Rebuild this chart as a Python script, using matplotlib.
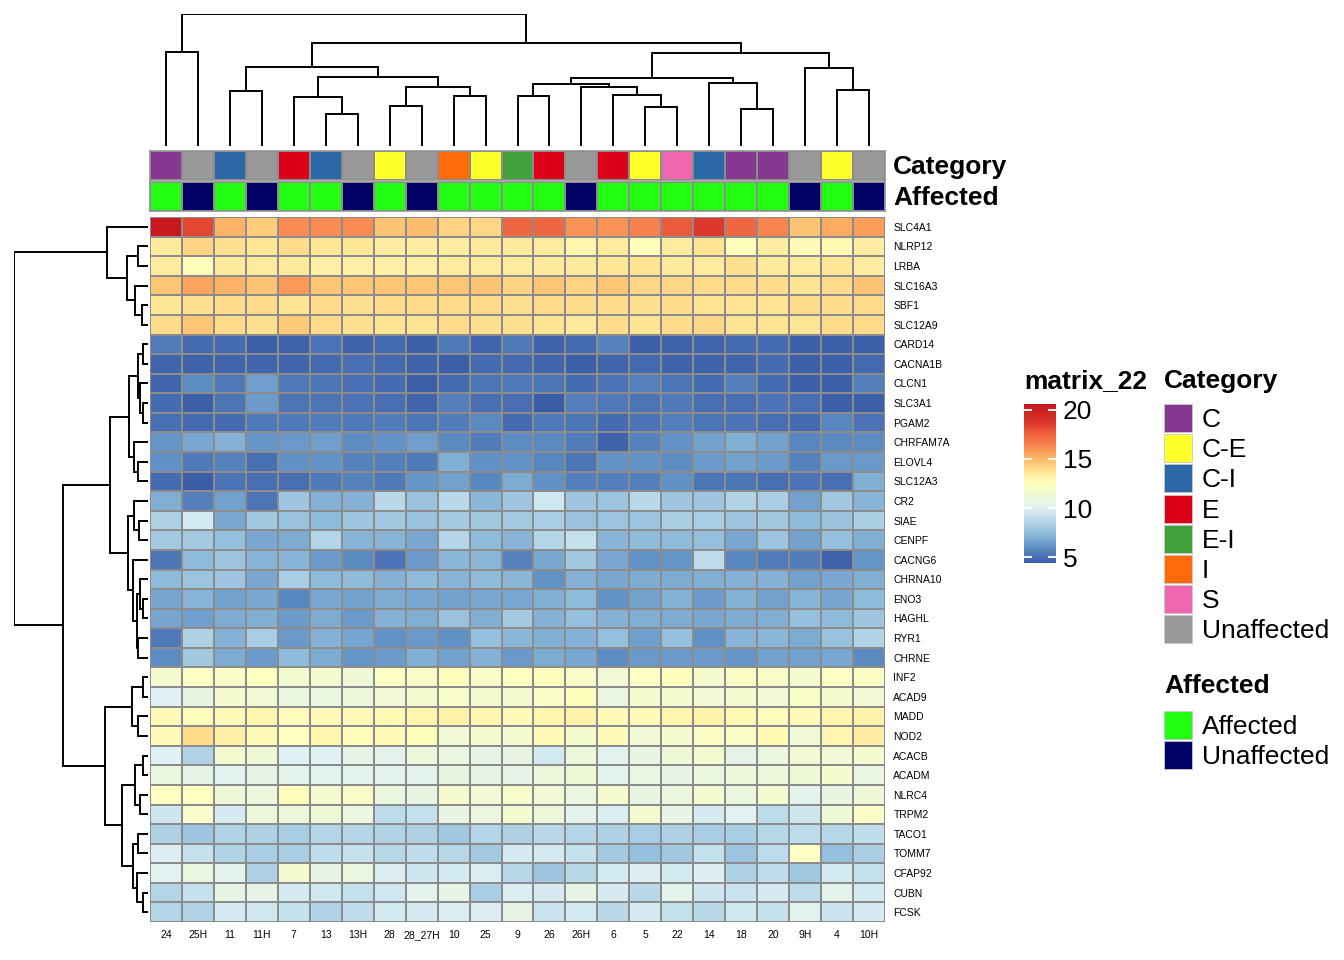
import numpy as np
import matplotlib
matplotlib.use("Agg")
import matplotlib.pyplot as plt
from matplotlib.colors import LinearSegmentedColormap, ListedColormap, Normalize
from matplotlib.patches import Rectangle

plt.rcParams['font.family'] = ['Liberation Sans', 'DejaVu Sans']

# samples (columns) in dendrogram order
samples = ["24", "25H", "11", "11H", "7", "13", "13H", "28", "28_27H", "10", "25",
           "9", "26", "26H", "6", "5", "22", "14", "18", "20", "9H", "4", "10H"]
category = ["C", "Unaffected", "C-I", "Unaffected", "E", "C-I", "Unaffected", "C-E",
            "Unaffected", "I", "C-E", "E-I", "E", "Unaffected", "E", "C-E", "S", "C-I",
            "C", "C", "Unaffected", "C-E", "Unaffected"]
affected = ["Affected", "Unaffected", "Affected", "Unaffected", "Affected", "Affected",
            "Unaffected", "Affected", "Unaffected", "Affected", "Affected", "Affected",
            "Affected", "Unaffected", "Affected", "Affected", "Affected", "Affected",
            "Affected", "Affected", "Unaffected", "Affected", "Unaffected"]

genes = ["SLC4A1", "NLRP12", "LRBA", "SLC16A3", "SBF1", "SLC12A9", "CARD14", "CACNA1B",
         "CLCN1", "SLC3A1", "PGAM2", "CHRFAM7A", "ELOVL4", "SLC12A3", "CR2", "SIAE",
         "CENPF", "CACNG6", "CHRNA10", "ENO3", "HAGHL", "RYR1", "CHRNE", "INF2", "ACAD9",
         "MADD", "NOD2", "ACACB", "ACADM", "NLRC4", "TRPM2", "TACO1", "TOMM7", "CFAP92",
         "CUBN", "FCSK"]

# expression matrix (genes x samples)
values = [
    [20.3, 18.2, 15.2, 14.4, 16.2, 16.2, 16.2, 14.7, 14.9, 14.2, 14.1, 17.4, 17.4, 16.0, 16.0, 16.5, 17.7, 18.6, 17.4, 16.4, 14.7, 15.4, 15.7],
    [13.5, 14.2, 13.8, 13.6, 13.9, 13.6, 13.6, 13.3, 13.3, 13.3, 13.5, 13.5, 13.4, 12.9, 13.4, 12.6, 13.4, 13.7, 12.6, 13.3, 12.7, 12.8, 13.3],
    [13.4, 12.6, 13.5, 13.4, 13.5, 13.2, 13.2, 13.2, 13.2, 13.4, 13.4, 13.4, 13.5, 13.5, 13.6, 13.7, 13.5, 13.4, 13.8, 13.5, 13.4, 13.6, 13.3],
    [14.6, 15.6, 15.2, 14.7, 15.8, 14.6, 14.6, 14.6, 14.6, 14.6, 14.7, 14.2, 14.6, 14.2, 14.6, 14.1, 14.1, 14.0, 14.0, 13.9, 13.7, 14.0, 14.7],
    [13.6, 13.8, 13.9, 14.0, 13.7, 13.9, 13.8, 14.0, 14.0, 14.0, 14.0, 13.8, 14.0, 13.9, 13.9, 13.8, 13.9, 13.7, 13.7, 13.7, 13.9, 13.9, 14.0],
    [13.9, 14.6, 14.0, 13.8, 14.5, 14.0, 13.8, 13.7, 13.7, 13.9, 13.8, 13.8, 13.7, 13.5, 13.9, 13.7, 13.9, 14.1, 13.7, 13.7, 13.6, 14.0, 14.0],
    [5.4, 4.9, 4.9, 4.5, 4.6, 5.1, 4.6, 4.8, 4.5, 5.3, 4.7, 5.3, 4.6, 4.8, 5.6, 4.5, 4.6, 4.7, 4.8, 4.9, 4.5, 4.5, 4.5],
    [4.7, 4.6, 4.7, 4.7, 4.7, 4.8, 5.0, 4.8, 4.6, 4.5, 4.9, 4.9, 4.7, 4.5, 4.7, 4.8, 4.6, 4.6, 4.7, 4.9, 4.5, 4.5, 4.8],
    [4.7, 5.9, 5.3, 6.5, 5.3, 5.2, 5.0, 4.9, 4.5, 4.9, 5.2, 5.3, 5.2, 4.9, 5.1, 5.6, 5.2, 4.9, 5.5, 4.9, 4.5, 4.5, 5.5],
    [4.9, 4.5, 5.2, 6.4, 5.2, 5.2, 5.1, 5.0, 4.7, 5.5, 5.0, 5.0, 4.4, 5.5, 5.3, 5.2, 5.3, 5.0, 5.0, 5.1, 5.0, 4.5, 4.5],
    [5.0, 4.8, 4.9, 5.3, 5.3, 5.4, 5.3, 5.4, 5.2, 5.4, 5.8, 4.9, 5.3, 5.2, 4.9, 5.1, 5.5, 5.2, 5.1, 5.0, 4.9, 5.7, 5.1],
    [6.2, 6.8, 7.1, 6.2, 6.3, 6.5, 5.9, 6.1, 6.5, 5.8, 5.4, 5.9, 5.8, 5.4, 4.6, 5.6, 6.1, 6.6, 7.0, 6.6, 5.7, 5.8, 5.9],
    [6.0, 5.3, 5.6, 5.0, 6.0, 6.1, 5.6, 5.5, 5.3, 7.0, 6.0, 6.1, 5.7, 5.2, 6.1, 6.1, 5.9, 6.4, 6.6, 6.4, 5.6, 6.3, 6.3],
    [4.9, 4.4, 5.1, 5.0, 5.0, 5.3, 5.6, 5.3, 6.2, 6.6, 5.7, 6.9, 6.0, 5.5, 5.5, 5.5, 6.0, 5.2, 5.2, 5.0, 5.1, 5.0, 7.0],
    [7.0, 5.5, 6.6, 5.2, 7.9, 7.1, 7.1, 8.8, 7.7, 8.8, 7.3, 7.9, 9.5, 7.9, 7.8, 8.8, 7.9, 7.9, 8.5, 8.2, 6.6, 8.0, 7.2],
    [8.4, 9.6, 6.8, 8.0, 7.7, 7.4, 7.9, 8.0, 7.7, 8.1, 8.0, 8.1, 8.2, 7.7, 7.8, 7.8, 8.3, 8.2, 7.9, 8.0, 7.4, 7.7, 8.3],
    [8.1, 8.1, 7.6, 6.8, 6.9, 8.6, 7.2, 7.2, 6.8, 8.6, 7.4, 7.2, 8.6, 9.2, 7.2, 7.5, 7.5, 7.6, 6.8, 7.8, 6.6, 7.6, 7.0],
    [5.2, 7.4, 7.8, 7.2, 7.2, 6.3, 5.8, 5.1, 6.3, 7.3, 7.3, 5.6, 6.8, 8.0, 6.8, 6.1, 6.2, 9.0, 5.7, 5.4, 5.4, 4.6, 6.2],
    [7.4, 7.8, 7.9, 6.8, 8.2, 7.5, 7.5, 7.1, 7.4, 7.2, 7.4, 7.3, 6.1, 7.1, 6.8, 6.9, 6.9, 7.0, 7.1, 7.1, 6.6, 6.8, 7.0],
    [6.7, 7.2, 6.6, 6.8, 5.7, 6.8, 6.6, 6.9, 6.8, 6.6, 6.8, 6.8, 7.0, 7.5, 6.1, 6.6, 7.1, 6.4, 7.1, 6.6, 7.2, 6.7, 7.4],
    [6.7, 6.5, 6.9, 7.0, 6.4, 6.9, 6.3, 7.1, 7.0, 7.7, 7.0, 8.1, 7.1, 7.6, 7.1, 7.0, 6.9, 6.8, 6.9, 7.0, 7.6, 7.4, 7.9],
    [5.3, 8.4, 7.1, 8.2, 6.3, 7.1, 6.7, 6.1, 6.3, 6.0, 7.6, 7.3, 7.0, 7.1, 7.6, 6.5, 7.6, 6.0, 7.2, 7.3, 6.9, 7.7, 8.5],
    [5.9, 8.0, 6.9, 6.4, 7.4, 6.9, 6.2, 6.4, 7.0, 6.6, 7.1, 6.3, 6.9, 6.8, 5.9, 6.3, 6.4, 6.4, 6.2, 6.6, 6.6, 6.8, 5.8],
    [11.7, 12.3, 12.0, 12.4, 11.5, 11.8, 11.2, 12.3, 12.0, 12.6, 12.0, 12.4, 12.6, 12.0, 11.3, 12.3, 12.6, 11.8, 12.2, 12.0, 11.7, 12.3, 12.2],
    [10.0, 10.7, 11.8, 11.4, 10.9, 10.9, 11.1, 11.3, 11.6, 11.9, 11.6, 11.6, 12.1, 12.6, 10.8, 11.6, 11.5, 11.3, 11.6, 11.4, 12.0, 11.8, 11.3],
    [12.7, 12.6, 12.7, 13.0, 12.6, 12.7, 12.7, 12.8, 13.0, 13.1, 12.9, 12.7, 13.0, 13.1, 12.7, 12.7, 13.0, 13.1, 12.8, 12.6, 12.7, 13.0, 13.1],
    [12.7, 13.9, 13.2, 12.7, 12.5, 13.0, 12.6, 12.7, 12.6, 11.4, 11.8, 11.8, 12.7, 11.8, 12.7, 11.4, 11.8, 12.2, 12.0, 12.8, 11.4, 12.9, 13.3],
    [10.0, 8.5, 11.6, 11.2, 10.0, 10.0, 10.5, 10.4, 11.0, 10.8, 10.6, 10.7, 9.6, 11.0, 10.2, 10.7, 11.2, 11.6, 10.5, 10.9, 11.4, 11.4, 11.8],
    [10.9, 10.5, 10.2, 10.5, 10.3, 10.2, 10.4, 10.3, 10.4, 10.7, 10.5, 10.6, 11.0, 11.2, 10.3, 10.8, 10.6, 10.9, 11.0, 11.0, 11.2, 11.8, 10.8],
    [12.5, 12.4, 11.2, 11.0, 12.6, 11.6, 12.0, 10.9, 10.7, 11.7, 11.4, 11.9, 11.3, 10.8, 11.8, 10.7, 10.9, 11.5, 10.9, 11.5, 10.4, 10.7, 11.2],
    [9.4, 11.9, 9.7, 11.0, 11.1, 11.2, 10.8, 8.9, 9.1, 10.7, 10.9, 11.5, 11.1, 10.3, 9.8, 11.6, 10.6, 9.7, 10.1, 8.9, 9.4, 11.2, 12.0],
    [8.4, 7.9, 8.5, 8.4, 8.3, 8.6, 8.6, 8.5, 8.4, 8.0, 8.6, 8.4, 8.8, 8.6, 8.4, 8.2, 8.4, 8.3, 8.3, 8.7, 8.9, 8.7, 9.0],
    [9.9, 9.2, 8.5, 8.2, 8.3, 9.0, 9.2, 8.7, 9.0, 8.7, 8.1, 9.7, 9.6, 9.2, 8.1, 7.6, 8.0, 9.1, 7.8, 8.9, 12.3, 7.6, 8.3],
    [10.1, 10.8, 10.3, 8.4, 11.6, 10.6, 10.8, 9.9, 9.4, 9.6, 9.8, 8.7, 7.9, 8.7, 9.6, 9.9, 9.6, 9.9, 8.4, 9.0, 8.0, 9.6, 9.2],
    [8.6, 9.2, 10.6, 10.5, 9.7, 9.5, 9.1, 9.5, 10.4, 10.6, 8.2, 9.8, 9.7, 10.6, 9.7, 8.8, 10.3, 9.4, 9.3, 9.7, 8.9, 10.3, 9.6],
    [8.6, 8.5, 9.7, 9.5, 9.2, 8.5, 9.0, 9.6, 9.7, 9.8, 9.9, 10.5, 9.3, 9.6, 8.8, 9.7, 9.1, 8.8, 9.5, 9.2, 10.2, 9.3, 9.7],
]

# dendrograms: (height, left, right), leaves are indices
col_tree = (133, (95, 0, 1),
            (104,
             (80, (55, 2, 3),
              (70, (49, 4, (32, 5, 6)),
               (59, (40, 7, 8), (50, 9, 10)))),
             (94, (69, (62, (50, 11, 12), (59, 13, (51, 14, (39, 15, 16)))),
                   (63, 17, (37, 18, 19))),
              (79, 20, (56, 21, 22)))))

row_tree = (134,
            (41, 0, (21, (10, 1, 2), (13, 3, (6, 4, 5)))),
            (85,
             (38,
              (19, (10, (5, 6, 7), (8, 8, (5, 9, 10))),
               (14, 11, (10, 12, 13))),
              (20, (14, 14, (9, 15, 16)),
               (15, 17, (11, (8, 18, (5, 19, 20)), (10, 21, 22))))),
             (43,
              (16, (5, 23, 24), (10, 25, 26)),
              (26, (13, (5, 27, 28), (8, 29, 30)),
               (15, (10, 31, 32), (11, 33, (5, 34, 35)))))))

cat_levels = ["C", "C-E", "C-I", "E", "E-I", "I", "S", "Unaffected"]
cat_colors = ["#84388F", "#FFFF2A", "#2C68A8", "#DC0019", "#40A03A", "#FF6A0A", "#F067B1", "#999999"]
aff_levels = ["Affected", "Unaffected"]
aff_colors = ["#22FF12", "#000066"]

vmin, vmax = 4.4, 20.6
stops = [(4.4, "#3A5DA8"), (6.0, "#6090C5"), (7.5, "#92BEDC"), (9.0, "#C0DEEC"),
         (10.0, "#E0F1F4"), (11.2, "#EEF8D6"), (12.5, "#FFFFBF"), (13.5, "#FFE99A"),
         (14.5, "#FDCB78"), (15.3, "#FDAE62"), (16.5, "#F8804E"), (17.5, "#EE6440"),
         (18.6, "#DC3A2C"), (20.6, "#C5141D")]
cmap = LinearSegmentedColormap.from_list(
    "hm", [((v - vmin) / (vmax - vmin), c) for v, c in stops])

W, H = 1344, 960
fig = plt.figure(figsize=(W / 100, H / 100), dpi=100)


def box(l, t, r, b):
    return [l / W, 1 - b / H, (r - l) / W, (b - t) / H]


grid = "#8c8c8c"
mat = np.array(values)
nr, nc = mat.shape

# heatmap
ax = fig.add_axes(box(150, 217, 885, 922))
mesh = ax.pcolormesh(mat, cmap=cmap, norm=Normalize(vmin, vmax),
                     edgecolors=grid, linewidth=1.1)
ax.set_xlim(0, nc)
ax.set_ylim(nr, 0)
ax.set_yticks(np.arange(nr) + 0.5)
ax.set_yticklabels(genes, fontsize=7.5)
ax.yaxis.tick_right()
ax.set_xticks(np.arange(nc) + 0.5)
ax.set_xticklabels(samples, fontsize=7.5)
ax.tick_params(length=0, pad=6)
for s in ax.spines.values():
    s.set_visible(False)

# annotation bars
def annot_bar(rect, labels, levels, colors, title):
    a = fig.add_axes(box(*rect))
    codes = np.array([[levels.index(x) for x in labels]])
    a.pcolormesh(codes, cmap=ListedColormap(colors), vmin=-0.5, vmax=len(levels) - 0.5,
                 edgecolors=grid, linewidth=1.1)
    a.set_xlim(0, nc)
    a.set_ylim(0, 1)
    a.set_xticks([])
    a.set_yticks([])
    for s in a.spines.values():
        s.set_edgecolor(grid)
        s.set_linewidth(1.1)
    a.text(1 + 8 / 735, 0.45, title, transform=a.transAxes, ha="left", va="center",
           fontsize=19, fontweight="bold")


annot_bar((150, 151, 885, 180), category, cat_levels, cat_colors, "Category")
annot_bar((150, 182, 885, 211), affected, aff_levels, aff_colors, "Affected")


# dendrograms
def draw_tree(a, node, top):
    if isinstance(node, int):
        return node + 0.5, 0.0
    h, l, r = node
    pl, hl = draw_tree(a, l, top)
    pr, hr = draw_tree(a, r, top)
    if top:
        a.plot([pl, pl, pr, pr], [hl, h, h, hr], color="black", lw=1.4,
               solid_joinstyle="miter")
    else:
        a.plot([hl, h, h, hr], [pl, pl, pr, pr], color="black", lw=1.4,
               solid_joinstyle="miter")
    return (pl + pr) / 2, h


axc = fig.add_axes(box(150, 14, 885, 146))
draw_tree(axc, col_tree, True)
axc.set_xlim(0, nc)
axc.set_ylim(0, col_tree[0])
axc.axis("off")

axr = fig.add_axes(box(14, 217, 148, 922))
draw_tree(axr, row_tree, False)
axr.set_xlim(row_tree[0], 0)
axr.set_ylim(nr, 0)
axr.axis("off")

# colour key
cax = fig.add_axes(box(1024, 404, 1056, 563))
cb = fig.colorbar(mesh, cax=cax, ticks=[5, 10, 15, 20])
cb.outline.set_visible(False)
cax.tick_params(axis="y", direction="in", length=6, width=1.3, color="white",
                left=True, right=True, labelleft=False, labelright=True,
                labelsize=19, pad=5)
fig.text(1024 / W, 1 - 381 / H, "matrix_22", fontsize=19, fontweight="bold",
         ha="left", va="center")

# legends for annotations
lg = fig.add_axes([0, 0, 1, 1])
lg.set_xlim(0, W)
lg.set_ylim(H, 0)
lg.axis("off")
lg.patch.set_alpha(0)


def legend_block(title, levels, colors, ty, y0):
    lg.text(1164, ty, title, fontsize=19, fontweight="bold", ha="left", va="center")
    for i, (lev, col) in enumerate(zip(levels, colors)):
        y = y0 + i * 30.2
        lg.add_patch(Rectangle((1164, y), 28, 28, facecolor=col, edgecolor="#c8c8c8",
                               linewidth=0.6))
        lg.text(1202, y + 16, lev, fontsize=19, ha="left", va="center")


legend_block("Category", cat_levels, cat_colors, 381, 404)
legend_block("Affected", aff_levels, aff_colors, 686, 711)

fig.savefig("out.png", dpi=100)
